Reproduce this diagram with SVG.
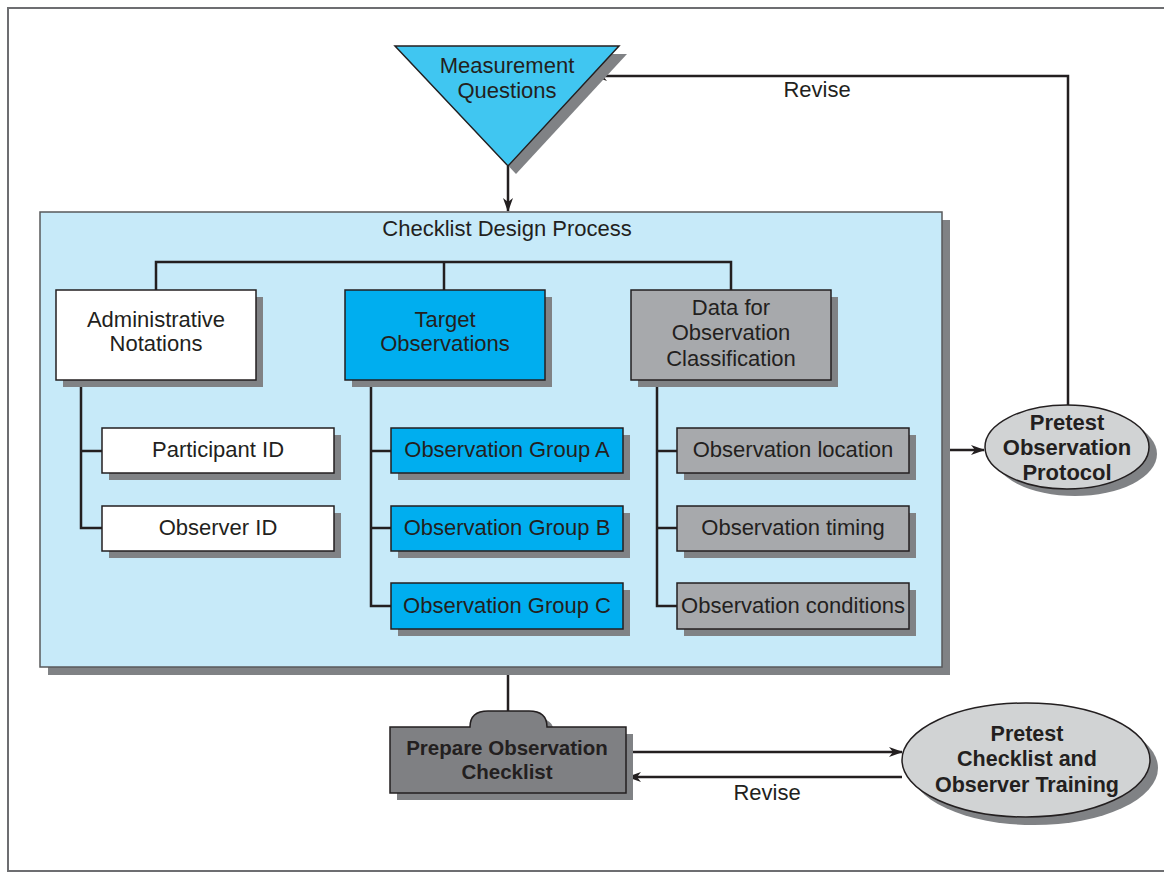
<svg xmlns="http://www.w3.org/2000/svg" width="1164" height="872" viewBox="0 0 1164 872">
<defs>
<marker id="arr" viewBox="0 0 14 10" refX="13" refY="5" markerWidth="14" markerHeight="10" markerUnits="userSpaceOnUse" orient="auto">
<path d="M0,0 L14,5 L0,10 L4,5 Z" fill="#231f20"/>
</marker>
</defs>
<style>
.t{font-family:"Liberation Sans",Arial,sans-serif;font-size:22px;fill:#231f20;text-anchor:middle}
.b{font-weight:bold}
.sh{fill:#808285}
.bx{stroke:#231f20;stroke-width:1.5}
.ln{stroke:#231f20;stroke-width:2.5;fill:none}
</style>
<rect x="0" y="0" width="1164" height="872" fill="#ffffff"/>
<rect x="8" y="8" width="1170" height="863" fill="none" stroke="#6d6e71" stroke-width="2"/>

<g id="connectors">
<line class="ln" x1="508" y1="166" x2="508" y2="211" marker-end="url(#arr)"/>
<polyline class="ln" points="1068,405 1068,76 594,76" marker-end="url(#arr)"/>
<line class="ln" x1="943" y1="450" x2="984" y2="450" marker-end="url(#arr)"/>
<line class="ln" x1="508" y1="667" x2="508" y2="712"/>
<line class="ln" x1="626" y1="752" x2="902" y2="752" marker-end="url(#arr)"/>
<line class="ln" x1="902" y1="777" x2="628" y2="777" marker-end="url(#arr)"/>
</g>

<g id="revise-labels">
<text class="t" x="817" y="97">Revise</text>
<text class="t" x="767" y="800">Revise</text>
</g>

<g id="measurement-questions">
<polygon class="sh" points="403,54 627,54 516,174"/>
<polygon points="395,46 619,46 508,166" fill="#40c6f1" stroke="#231f20" stroke-width="1.5"/>
<text class="t" x="507" y="73">Measurement</text>
<text class="t" x="507" y="98">Questions</text>
</g>

<g id="checklist-design-process">
<rect class="sh" x="48" y="220" width="902" height="455"/>
<rect x="40" y="212" width="902" height="455" fill="#c7eaf9" stroke="#58595b" stroke-width="1.5"/>
<text class="t" x="507" y="236">Checklist Design Process</text>
</g>

<g id="tree-lines">
<polyline class="ln" points="156,290 156,262 731,262 731,290"/>
<line class="ln" x1="444" y1="262" x2="444" y2="290"/>
<polyline class="ln" points="81,380 81,528 102,528"/>
<line class="ln" x1="81" y1="451" x2="102" y2="451"/>
<polyline class="ln" points="371,380 371,606 391,606"/>
<line class="ln" x1="371" y1="451" x2="391" y2="451"/>
<line class="ln" x1="371" y1="528" x2="391" y2="528"/>
<polyline class="ln" points="657,380 657,606 677,606"/>
<line class="ln" x1="657" y1="451" x2="677" y2="451"/>
<line class="ln" x1="657" y1="528" x2="677" y2="528"/>
</g>

<g id="administrative-notations">
<rect class="sh" x="63" y="297" width="200" height="90"/>
<rect class="bx" x="56" y="290" width="200" height="90" fill="#ffffff"/>
<text class="t" x="156" y="327">Administrative</text>
<text class="t" x="156" y="351">Notations</text>
</g>
<g id="target-observations">
<rect class="sh" x="352" y="297" width="200" height="90"/>
<rect class="bx" x="345" y="290" width="200" height="90" fill="#00aeef"/>
<text class="t" x="445" y="327">Target</text>
<text class="t" x="445" y="351">Observations</text>
</g>
<g id="data-for-observation-classification">
<rect class="sh" x="638" y="297" width="200" height="90"/>
<rect class="bx" x="631" y="290" width="200" height="90" fill="#a7a9ac"/>
<text class="t" x="731" y="315">Data for</text>
<text class="t" x="731" y="340">Observation</text>
<text class="t" x="731" y="366">Classification</text>
</g>

<g id="participant-id">
<rect class="sh" x="109" y="435" width="232" height="45"/>
<rect class="bx" x="102" y="428" width="232" height="45" fill="#ffffff"/>
<text class="t" x="218" y="457">Participant ID</text>
</g>
<g id="observer-id">
<rect class="sh" x="109" y="513" width="232" height="45"/>
<rect class="bx" x="102" y="506" width="232" height="45" fill="#ffffff"/>
<text class="t" x="218" y="535">Observer ID</text>
</g>

<g id="observation-group-a">
<rect class="sh" x="398" y="435" width="232" height="45"/>
<rect class="bx" x="391" y="428" width="232" height="45" fill="#00aeef"/>
<text class="t" x="507" y="457">Observation Group A</text>
</g>
<g id="observation-group-b">
<rect class="sh" x="398" y="513" width="232" height="45"/>
<rect class="bx" x="391" y="506" width="232" height="45" fill="#00aeef"/>
<text class="t" x="507" y="535">Observation Group B</text>
</g>
<g id="observation-group-c">
<rect class="sh" x="398" y="590" width="232" height="46"/>
<rect class="bx" x="391" y="583" width="232" height="46" fill="#00aeef"/>
<text class="t" x="507" y="613">Observation Group C</text>
</g>

<g id="observation-location">
<rect class="sh" x="684" y="435" width="232" height="45"/>
<rect class="bx" x="677" y="428" width="232" height="45" fill="#a7a9ac"/>
<text class="t" x="793" y="457">Observation location</text>
</g>
<g id="observation-timing">
<rect class="sh" x="684" y="513" width="232" height="45"/>
<rect class="bx" x="677" y="506" width="232" height="45" fill="#a7a9ac"/>
<text class="t" x="793" y="535">Observation timing</text>
</g>
<g id="observation-conditions">
<rect class="sh" x="684" y="590" width="232" height="46"/>
<rect class="bx" x="677" y="583" width="232" height="46" fill="#a7a9ac"/>
<text class="t" x="793" y="613">Observation conditions</text>
</g>

<g id="pretest-observation-protocol">
<ellipse class="sh" cx="1075" cy="454" rx="82" ry="42"/>
<ellipse class="bx" cx="1067" cy="447" rx="82" ry="42" fill="#d1d3d4"/>
<text class="t b" x="1067" y="430">Pretest</text>
<text class="t b" x="1067" y="455">Observation</text>
<text class="t b" x="1067" y="480">Protocol</text>
</g>

<g id="prepare-observation-checklist">
<path class="sh" transform="translate(7,7)" d="M390,727 L470,727 C470,716 476,711 488,711 L529,711 C541,711 547,716 547,727 L626,727 L626,793 L390,793 Z"/>
<path class="bx" fill="#7f8083" d="M390,727 L470,727 C470,716 476,711 488,711 L529,711 C541,711 547,716 547,727 L626,727 L626,793 L390,793 Z"/>
<text class="t b" x="507" y="755" style="font-size:20.5px">Prepare Observation</text>
<text class="t b" x="507" y="779" style="font-size:20.5px">Checklist</text>
</g>

<g id="pretest-checklist-observer-training">
<ellipse class="sh" cx="1034" cy="768" rx="124" ry="57"/>
<ellipse class="bx" cx="1026" cy="760" rx="124" ry="57" fill="#d1d3d4"/>
<text class="t b" x="1027" y="741" style="font-size:21.5px">Pretest</text>
<text class="t b" x="1027" y="766" style="font-size:21.5px">Checklist and</text>
<text class="t b" x="1027" y="792" style="font-size:21.5px">Observer Training</text>
</g>
</svg>
